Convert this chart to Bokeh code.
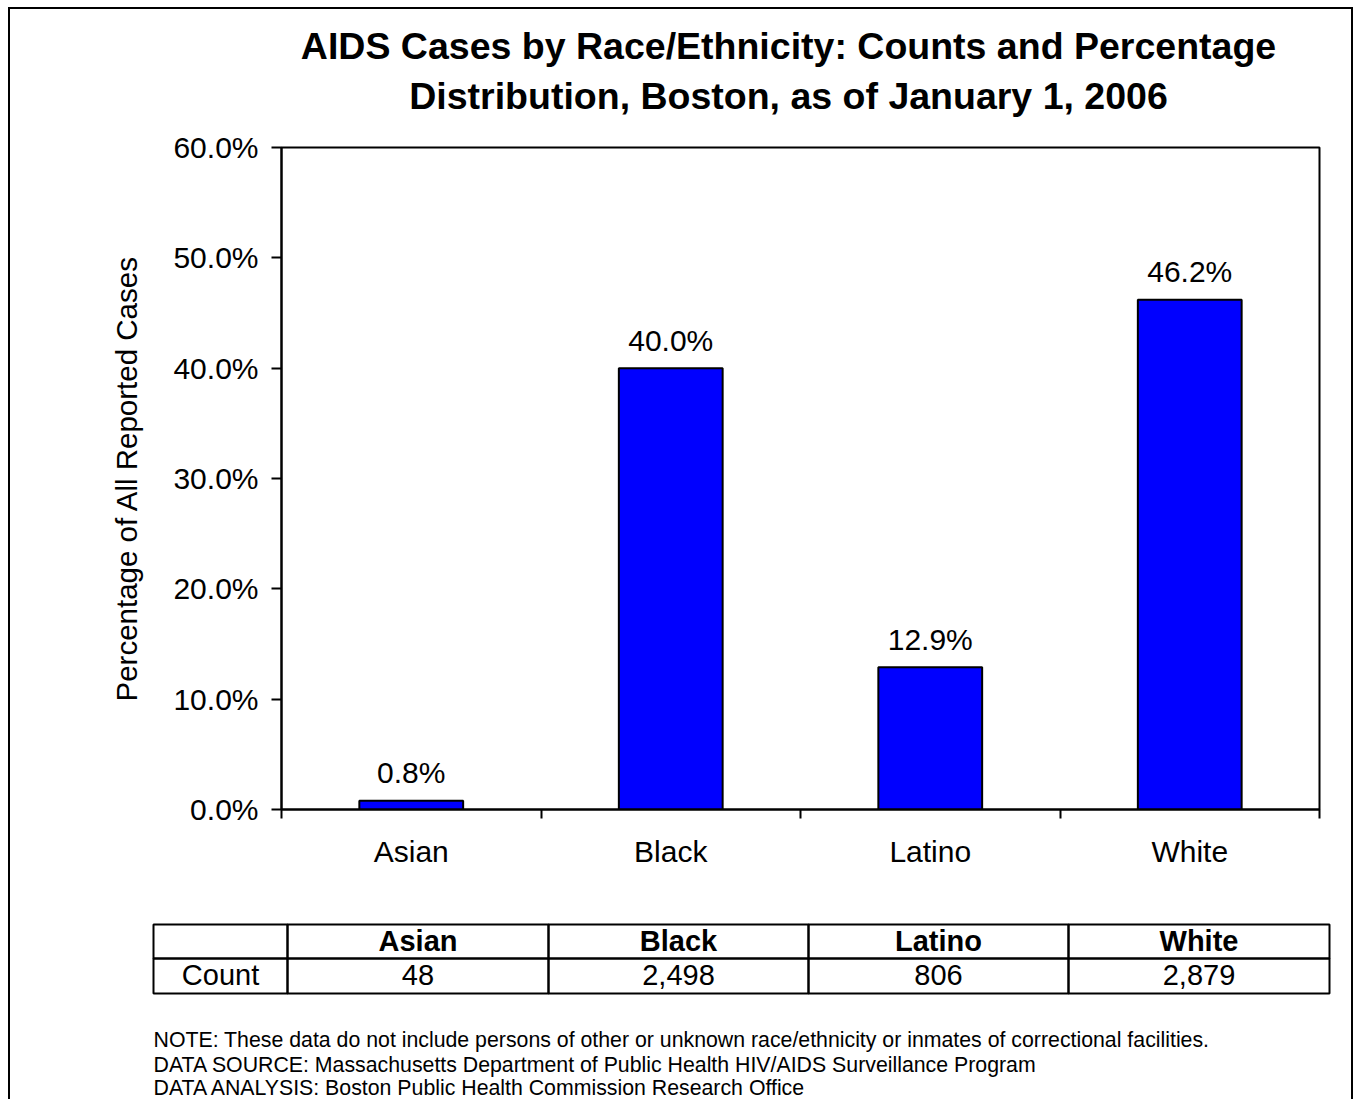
from bokeh.plotting import figure
from bokeh.layouts import column, row
from bokeh.models import Range1d, FixedTicker, PrintfTickFormatter
from bokeh.core.properties import value
from bokeh.embed import file_html
from bokeh.resources import INLINE

# ---- data ----
categories = ["Asian", "Black", "Latino", "White"]
percents = [0.8, 40.0, 12.9, 46.2]
counts = [48, 2498, 806, 2879]
y_ticks = [0, 10, 20, 30, 40, 50, 60]
title_lines = ["AIDS Cases by Race/Ethnicity: Counts and Percentage",
               "Distribution, Boston, as of January 1, 2006"]
notes = ["NOTE:  These data do not include persons of other or unknown race/ethnicity or inmates of correctional facilities.",
         "DATA SOURCE: Massachusetts Department of Public Health HIV/AIDS Surveillance Program",
         "DATA ANALYSIS: Boston Public Health Commission Research Office"]

FONT = "Liberation Sans"

# ---- layout (page pixel positions) ----
W = 1357
TOP_H = 120          # title strip: y 0..120
MID_END = 905        # chart strip: y 120..905
PAGE_H = 1099        # table/notes strip: y 905..1099
FRAME_L, FRAME_T, FRAME_R, FRAME_B = 281, 147, 1319, 809


def blank(height, y0, y1):
    f = figure(width=W, height=height, output_backend="svg", toolbar_location=None,
               x_range=Range1d(0, W), y_range=Range1d(y1, y0),
               x_axis_type=None, y_axis_type=None, min_border=0)
    f.xgrid.visible = False
    f.ygrid.visible = False
    f.outline_line_color = None
    f.background_fill_color = None
    f.border_fill_color = None
    return f


# ---- title strip ----
pA = blank(TOP_H, 0, TOP_H)
pA.text(x=[788, 788], y=[45.5, 95.5], text=title_lines, text_align="center",
        text_baseline="middle", text_font=value(FONT), text_font_size="37.5px",
        text_font_style="bold", text_color="black")

# ---- chart ----
n = len(categories)
centers = [i + 0.5 for i in range(n)]
bounds = [float(i) for i in range(n + 1)]
mid_h = MID_END - TOP_H

p = figure(width=W, height=mid_h, output_backend="svg", toolbar_location=None,
           x_range=Range1d(0, n), y_range=Range1d(0, 60),
           min_border_left=FRAME_L, min_border_top=FRAME_T - TOP_H,
           min_border_right=W - FRAME_R, min_border_bottom=MID_END - FRAME_B)
p.xgrid.visible = False
p.ygrid.visible = False
p.outline_line_color = "black"
p.outline_line_width = 2
p.background_fill_color = "white"
p.border_fill_color = None

p.vbar(x=centers, top=percents, width=0.4, fill_color="#0000FF",
       line_color="black", line_width=2)
p.text(x=centers, y=percents, text=[f"{v:.1f}%" for v in percents],
       text_align="center", text_baseline="alphabetic", y_offset=-28,
       text_font=value(FONT), text_font_size="30px", text_color="black")

xa = p.xaxis[0]
xa.ticker = FixedTicker(ticks=centers, minor_ticks=bounds)
xa.major_label_overrides = {c: cat for c, cat in zip(centers, categories)}
xa.major_tick_line_color = None
xa.major_tick_out = 9
xa.major_tick_in = 0
xa.minor_tick_line_color = "black"
xa.minor_tick_line_width = 2
xa.minor_tick_out = 9
xa.minor_tick_in = 0
xa.axis_line_width = 2
xa.major_label_standoff = 16
xa.major_label_text_font = FONT
xa.major_label_text_font_size = "30px"
xa.major_label_text_color = "black"

ya = p.yaxis[0]
ya.ticker = FixedTicker(ticks=y_ticks, minor_ticks=[])
ya.formatter = PrintfTickFormatter(format="%.1f%%")
ya.major_tick_out = 10
ya.major_tick_in = 0
ya.major_tick_line_width = 2
ya.minor_tick_line_color = None
ya.axis_line_width = 2
ya.major_label_standoff = 13
ya.major_label_text_font = FONT
ya.major_label_text_font_size = "30px"
ya.major_label_text_color = "black"
ya.axis_label = "Percentage of All Reported Cases"
ya.axis_label_text_font = FONT
ya.axis_label_text_font_size = "29.5px"
ya.axis_label_text_font_style = "normal"
ya.axis_label_text_color = "black"
ya.axis_label_standoff = 27

# ---- table + notes strip ----
pC = blank(PAGE_H - MID_END, MID_END, PAGE_H)
col_edges = [153, 287, 548, 808, 1068, 1329]
row_edges = [924, 958, 993]
cl, cr, rt, rb = [], [], [], []
for r in range(2):
    for c in range(5):
        cl.append(col_edges[c]); cr.append(col_edges[c + 1])
        rt.append(row_edges[r]); rb.append(row_edges[r + 1])
pC.quad(left=cl, right=cr, top=rt, bottom=rb, fill_alpha=0,
        line_color="black", line_width=2)

row_texts = [[""] + categories, ["Count"] + [f"{v:,}" for v in counts]]
for r in range(2):
    ymid = (row_edges[r] + row_edges[r + 1]) / 2 - 1
    xs, ys, ts = [], [], []
    for c in range(5):
        if row_texts[r][c]:
            xs.append((col_edges[c] + col_edges[c + 1]) / 2)
            ys.append(ymid)
            ts.append(row_texts[r][c])
    pC.text(x=xs, y=ys, text=ts, text_align="center", text_baseline="middle",
            text_font=value(FONT), text_font_size="29px",
            text_font_style="bold" if r == 0 else "normal", text_color="black")

pC.text(x=[153] * len(notes), y=[1039, 1064, 1087], text=notes,
        text_align="left", text_baseline="middle", text_font=value(FONT),
        text_font_size="21.3px", text_color="black")

border_css = ("linear-gradient(#000,#000) 8px 7px / 1345px 2px no-repeat, "
              "linear-gradient(#000,#000) 8px 7px / 2px 1200px no-repeat, "
              "linear-gradient(#000,#000) 1351px 7px / 2px 1200px no-repeat, #ffffff")
layout = column(pA, row(p, spacing=0), pC, spacing=0, styles={"background": border_css})

open("out.html", "w").write(file_html(layout, INLINE))
